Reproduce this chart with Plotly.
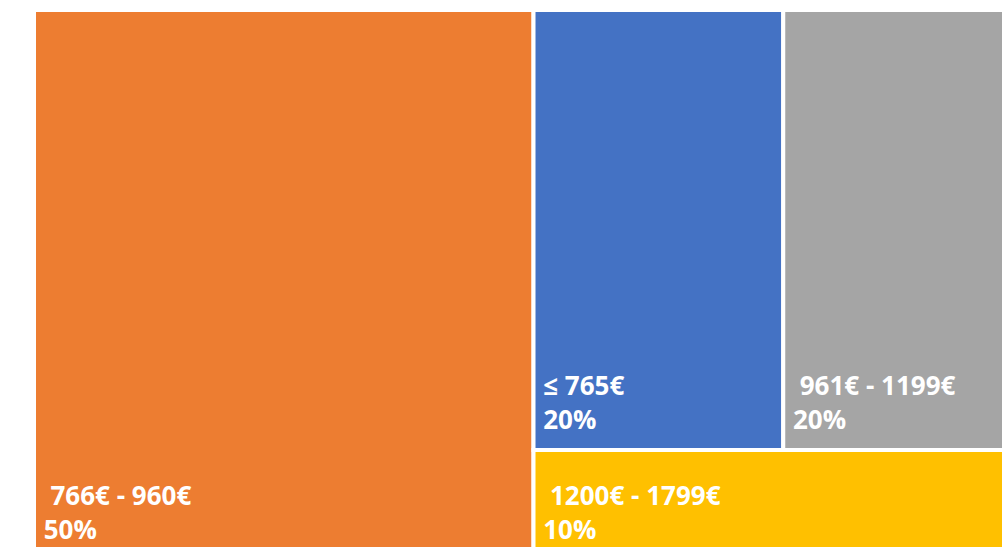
import plotly.graph_objects as go

labels = ["\u00a0766€ - 960€", "≤ 765€", "\u00a0961€ - 1199€", "\u00a01200€ - 1799€"]
values = [50, 20, 20, 10]
pct_text = ["50%", "20%", "20%", "10%"]
colors = ["#ED7D31", "#4472C4", "#A5A5A5", "#FFC000"]

fig = go.Figure(go.Treemap(
    labels=labels,
    parents=[""] * len(labels),
    values=values,
    text=pct_text,
    texttemplate="\u00a0%{label}<br>\u00a0%{text}<span style='font-size:60px'>\u00a0</span>",
    textposition="bottom left",
    marker=dict(colors=colors, line=dict(color="white", width=4),
                pad=dict(t=0, l=0, r=0, b=0)),
    textfont=dict(family="Open Sans", size=26, color="white", weight="bold"),
    tiling=dict(packing="squarify", pad=0),
    pathbar=dict(visible=False),
    sort=True,
    hoverinfo="label+text",
))
fig.update_layout(
    width=1033, height=560,
    margin=dict(l=34, r=0, t=10, b=0),
    paper_bgcolor="white",
    showlegend=False,
)
fig.write_html(
    "out.html",
    post_script="document.documentElement.style.overflow='hidden';document.body.style.overflow='hidden';",
)
